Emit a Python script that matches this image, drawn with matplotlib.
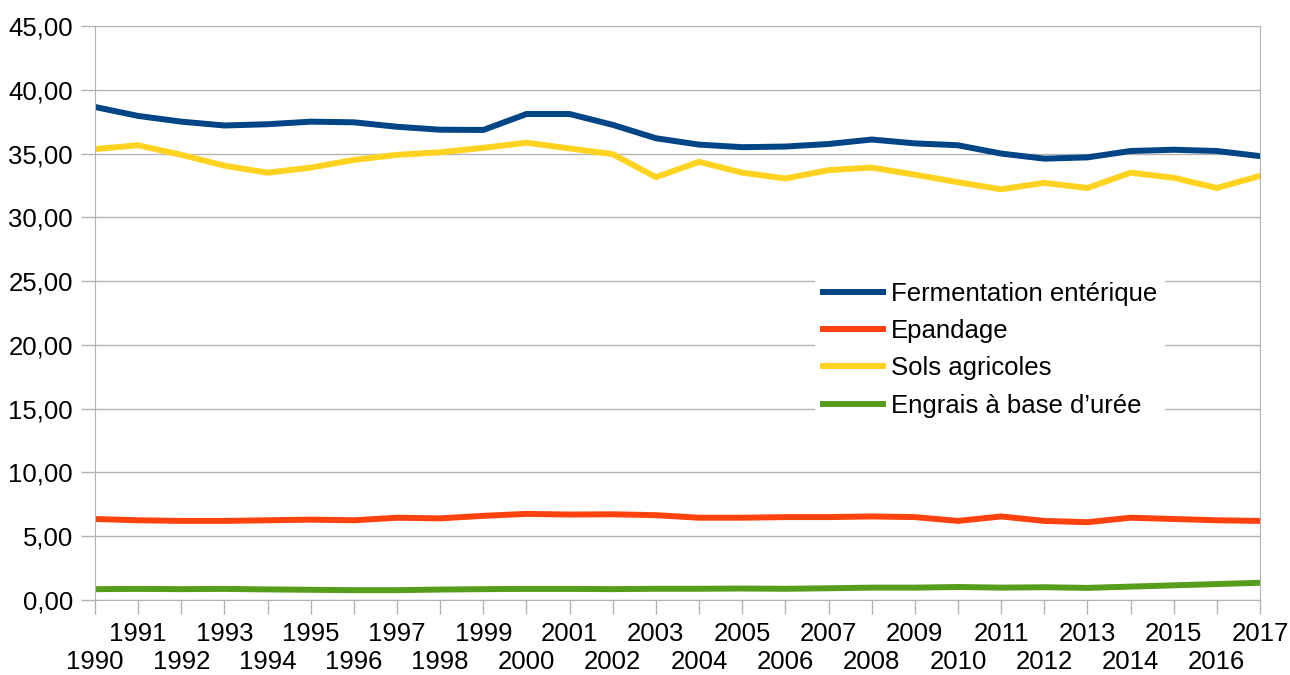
import numpy as np
import matplotlib
matplotlib.use("Agg")
import matplotlib.pyplot as plt
from matplotlib.ticker import FuncFormatter

plt.rcParams['font.family'] = ['Liberation Sans', 'DejaVu Sans']

# data
years = list(range(1990, 2018))
fermentation = [38.65, 37.95, 37.5, 37.2, 37.3, 37.5, 37.45, 37.1, 36.87, 36.85,
                38.1, 38.1, 37.25, 36.2, 35.7, 35.5, 35.55, 35.75, 36.1, 35.8,
                35.65, 35.0, 34.6, 34.7, 35.2, 35.3, 35.2, 34.8]
epandage = [6.35, 6.25, 6.2, 6.2, 6.25, 6.3, 6.25, 6.45, 6.4, 6.6,
            6.75, 6.7, 6.72, 6.65, 6.45, 6.45, 6.5, 6.5, 6.55, 6.5,
            6.2, 6.55, 6.2, 6.1, 6.45, 6.35, 6.25, 6.2]
sols = [35.35, 35.65, 34.9, 34.05, 33.5, 33.9, 34.5, 34.9, 35.1, 35.45,
        35.85, 35.4, 34.95, 33.15, 34.35, 33.5, 33.05, 33.7, 33.9, 33.35,
        32.75, 32.2, 32.7, 32.3, 33.5, 33.1, 32.3, 33.25]
engrais = [0.85, 0.87, 0.85, 0.87, 0.83, 0.8, 0.77, 0.77, 0.82, 0.85,
           0.87, 0.87, 0.85, 0.88, 0.88, 0.9, 0.88, 0.92, 0.97, 0.97,
           1.02, 0.97, 1.0, 0.95, 1.05, 1.15, 1.25, 1.35]

names = ["Fermentation entérique", "Epandage", "Sols agricoles", "Engrais à base d’urée"]
colors = ["#004586", "#ff420e", "#ffd320", "#579d1c"]

fs = 18.5
fig = plt.figure(figsize=(12.9, 6.75), dpi=100)
ax = fig.add_axes([95/1290, 1-600/675, (1260-95)/1290, (600-26)/675])

for vals, name, c in zip([fermentation, epandage, sols, engrais], names, colors):
    ax.plot(years, vals, color=c, lw=4.3, label=name, solid_joinstyle='miter')

ax.set_xlim(1990, 2017)
ax.set_ylim(0, 45)
ax.set_yticks(np.arange(0, 46, 5))
ax.yaxis.set_major_formatter(FuncFormatter(lambda v, p: f"{v:.2f}".replace(".", ",")))

# odd years on the upper row, even years on the lower row
odd = [y for y in years if y % 2]
even = [y for y in years if not y % 2]
ax.set_xticks(odd)
ax.set_xticklabels([str(y) for y in odd])
ax.set_xticks(even, minor=True)
ax.set_xticklabels([str(y) for y in even], minor=True)

ax.grid(axis='y', color='#b3b3b3', lw=1)
ax.set_axisbelow(True)
for s in ['left', 'right', 'bottom']:
    ax.spines[s].set_color('#b3b3b3')
ax.spines['top'].set_visible(False)
ax.tick_params(axis='both', which='both', colors='#b3b3b3', labelcolor='black',
               labelsize=fs, length=10, width=1)
ax.tick_params(axis='x', which='major', pad=6)
ax.tick_params(axis='x', which='minor', pad=26)
ax.tick_params(axis='y', pad=6)

leg = ax.legend(loc='upper left', bbox_to_anchor=((815-95)/1165, 1-(274-26)/574),
                frameon=True, fancybox=False, edgecolor='none', framealpha=1,
                fontsize=fs, handlelength=2.35, handletextpad=0.3,
                labelspacing=0.52, borderpad=0.3, borderaxespad=0)

fig.savefig("out.png", dpi=100)
